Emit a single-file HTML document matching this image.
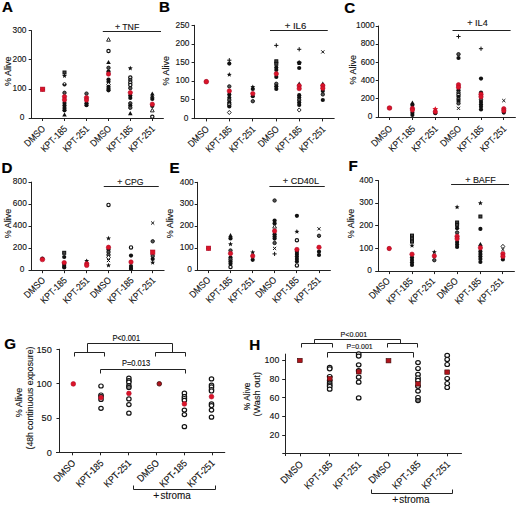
<!DOCTYPE html>
<html><head><meta charset="utf-8"><title>Figure</title><style>html,body{margin:0;padding:0;background:#fff;}body{width:520px;height:505px;overflow:hidden;font-family:"Liberation Sans", sans-serif;}svg text{font-family:"Liberation Sans", sans-serif;}</style></head><body>
<svg width="520" height="505" viewBox="0 0 520 505" style="display:block;font-family:'Liberation Sans', sans-serif">
<rect width="520" height="505" fill="#fff"/>
<text transform="translate(2.00 12.30) scale(1.08 1)" font-size="14" font-weight="bold" fill="#000" stroke="#000" stroke-width="0.2">A</text>
<line x1="31.50" y1="30.20" x2="31.50" y2="118.70" stroke="#222" stroke-width="1.0"/>
<text x="24.30" y="120.10" font-size="8.8" text-anchor="end" font-weight="normal" fill="#111" stroke="#111" stroke-width="0.12" textLength="4.65" lengthAdjust="spacingAndGlyphs">0</text>
<line x1="28.70" y1="89.50" x2="31.50" y2="89.50" stroke="#222" stroke-width="1.0"/>
<text x="26.50" y="91.13" font-size="8.8" text-anchor="end" font-weight="normal" fill="#111" stroke="#111" stroke-width="0.12" textLength="13.95" lengthAdjust="spacingAndGlyphs">100</text>
<line x1="28.70" y1="59.50" x2="31.50" y2="59.50" stroke="#222" stroke-width="1.0"/>
<text x="26.50" y="61.97" font-size="8.8" text-anchor="end" font-weight="normal" fill="#111" stroke="#111" stroke-width="0.12" textLength="13.95" lengthAdjust="spacingAndGlyphs">200</text>
<line x1="28.70" y1="30.50" x2="31.50" y2="30.50" stroke="#222" stroke-width="1.0"/>
<text x="26.50" y="32.80" font-size="8.8" text-anchor="end" font-weight="normal" fill="#111" stroke="#111" stroke-width="0.12" textLength="13.95" lengthAdjust="spacingAndGlyphs">300</text>
<line x1="28.70" y1="118.50" x2="163.80" y2="118.50" stroke="#222" stroke-width="1.0"/>
<line x1="42.50" y1="118.20" x2="42.50" y2="121.00" stroke="#222" stroke-width="1.0"/>
<text x="46.00" y="129.40" font-size="9.6" text-anchor="end" font-weight="normal" fill="#111" stroke="#111" stroke-width="0.12" textLength="25.34" lengthAdjust="spacingAndGlyphs" transform="rotate(-45 46.00 129.40)">DMSO</text>
<line x1="64.50" y1="118.20" x2="64.50" y2="121.00" stroke="#222" stroke-width="1.0"/>
<text x="67.90" y="129.40" font-size="9.6" text-anchor="end" font-weight="normal" fill="#111" stroke="#111" stroke-width="0.12" textLength="32.87" lengthAdjust="spacingAndGlyphs" transform="rotate(-45 67.90 129.40)">KPT-185</text>
<line x1="86.50" y1="118.20" x2="86.50" y2="121.00" stroke="#222" stroke-width="1.0"/>
<text x="89.90" y="129.40" font-size="9.6" text-anchor="end" font-weight="normal" fill="#111" stroke="#111" stroke-width="0.12" textLength="32.87" lengthAdjust="spacingAndGlyphs" transform="rotate(-45 89.90 129.40)">KPT-251</text>
<line x1="108.50" y1="118.20" x2="108.50" y2="121.00" stroke="#222" stroke-width="1.0"/>
<text x="111.90" y="129.40" font-size="9.6" text-anchor="end" font-weight="normal" fill="#111" stroke="#111" stroke-width="0.12" textLength="25.34" lengthAdjust="spacingAndGlyphs" transform="rotate(-45 111.90 129.40)">DMSO</text>
<line x1="130.50" y1="118.20" x2="130.50" y2="121.00" stroke="#222" stroke-width="1.0"/>
<text x="133.70" y="129.40" font-size="9.6" text-anchor="end" font-weight="normal" fill="#111" stroke="#111" stroke-width="0.12" textLength="32.87" lengthAdjust="spacingAndGlyphs" transform="rotate(-45 133.70 129.40)">KPT-185</text>
<line x1="152.50" y1="118.20" x2="152.50" y2="121.00" stroke="#222" stroke-width="1.0"/>
<text x="155.70" y="129.40" font-size="9.6" text-anchor="end" font-weight="normal" fill="#111" stroke="#111" stroke-width="0.12" textLength="32.87" lengthAdjust="spacingAndGlyphs" transform="rotate(-45 155.70 129.40)">KPT-251</text>
<text x="10.80" y="71.30" font-size="9" text-anchor="middle" font-weight="normal" fill="#111" stroke="#111" stroke-width="0.12" transform="rotate(-90 10.80 71.30)">% Alive</text>
<line x1="102.80" y1="31.50" x2="161.00" y2="31.50" stroke="#222" stroke-width="1.0"/>
<text x="127.10" y="29.90" font-size="9.3" text-anchor="middle" font-weight="normal" fill="#111" stroke="#111" stroke-width="0.12" textLength="24.4" lengthAdjust="spacingAndGlyphs">+ TNF</text>
<circle cx="42.60" cy="89.30" r="2.1" fill="#111"/>
<rect x="40.40" y="87.10" width="4.40" height="4.40" fill="#dc1428" stroke="#b00a28" stroke-width="0.6"/>
<rect x="63.00" y="71.00" width="3.00" height="3.00" fill="#444" stroke="#111" stroke-width="1"/>
<polygon points="64.50,73.30 65.19,74.95 66.97,75.10 65.61,76.26 66.03,78.00 64.50,77.07 62.97,78.00 63.39,76.26 62.03,75.10 63.81,74.95" fill="#111"/>
<circle cx="64.50" cy="84.40" r="1.7000000000000002" fill="#111" stroke="#111" stroke-width="0.9"/><circle cx="64.50" cy="83.80" r="0.8" fill="#fff"/>
<circle cx="64.50" cy="92.80" r="1.7000000000000002" fill="#555" stroke="#111" stroke-width="0.9"/>
<circle cx="64.50" cy="103.00" r="2.1" fill="#111"/>
<circle cx="64.50" cy="105.50" r="2.1" fill="#111"/>
<circle cx="64.50" cy="108.00" r="2.1" fill="#111"/>
<circle cx="64.50" cy="110.30" r="2.1" fill="#111"/>
<polygon points="64.50,112.40 66.80,116.60 62.20,116.60" fill="#111"/>
<circle cx="64.50" cy="96.60" r="2.2" fill="#dc1428" stroke="#b00a28" stroke-width="0.6"/>
<circle cx="64.50" cy="99.80" r="2.2" fill="#dc1428" stroke="#b00a28" stroke-width="0.6"/>
<circle cx="86.50" cy="93.60" r="1.7000000000000002" fill="#555" stroke="#111" stroke-width="0.9"/>
<circle cx="86.50" cy="103.30" r="2.1" fill="#111"/>
<circle cx="86.50" cy="105.20" r="2.1" fill="#111"/>
<circle cx="86.50" cy="97.60" r="2.2" fill="#dc1428" stroke="#b00a28" stroke-width="0.6"/>
<circle cx="86.50" cy="100.00" r="2.2" fill="#dc1428" stroke="#b00a28" stroke-width="0.6"/>
<polygon points="108.50,37.60 110.40,41.20 106.60,41.20" fill="#fff" stroke="#111" stroke-width="0.9"/>
<circle cx="108.50" cy="51.00" r="1.6500000000000001" fill="#fff" stroke="#111" stroke-width="1.2"/>
<polygon points="108.50,59.90 110.80,64.10 106.20,64.10" fill="#111"/>
<circle cx="108.50" cy="67.80" r="1.7000000000000002" fill="#555" stroke="#111" stroke-width="0.9"/>
<circle cx="108.50" cy="71.50" r="2.1" fill="#111"/>
<circle cx="108.50" cy="79.50" r="2.1" fill="#111"/>
<circle cx="108.50" cy="81.80" r="2.1" fill="#111"/>
<polygon points="108.50,82.50 110.40,84.60 108.50,86.70 106.60,84.60" fill="#fff" stroke="#111" stroke-width="0.9"/>
<circle cx="108.50" cy="86.80" r="2.1" fill="#111"/>
<circle cx="108.50" cy="88.80" r="2.1" fill="#111"/>
<circle cx="108.50" cy="90.30" r="2.1" fill="#111"/>
<circle cx="108.50" cy="74.00" r="2.2" fill="#dc1428" stroke="#b00a28" stroke-width="0.6"/>
<polygon points="130.30,65.70 130.99,67.35 132.77,67.50 131.41,68.66 131.83,70.40 130.30,69.47 128.77,70.40 129.19,68.66 127.83,67.50 129.61,67.35" fill="#111"/>
<circle cx="130.30" cy="77.50" r="1.6500000000000001" fill="#fff" stroke="#111" stroke-width="1.2"/>
<circle cx="130.30" cy="80.00" r="1.7000000000000002" fill="#555" stroke="#111" stroke-width="0.9"/>
<circle cx="130.30" cy="82.50" r="1.6500000000000001" fill="#fff" stroke="#111" stroke-width="1.2"/>
<circle cx="130.30" cy="85.00" r="1.6500000000000001" fill="#fff" stroke="#111" stroke-width="1.2"/>
<circle cx="130.30" cy="88.20" r="1.7000000000000002" fill="#555" stroke="#111" stroke-width="0.9"/>
<circle cx="130.30" cy="95.50" r="2.1" fill="#111"/>
<circle cx="130.30" cy="98.00" r="2.1" fill="#111"/>
<circle cx="130.30" cy="103.30" r="1.7000000000000002" fill="#555" stroke="#111" stroke-width="0.9"/>
<circle cx="130.30" cy="105.50" r="2.1" fill="#111"/>
<circle cx="130.30" cy="107.80" r="1.7000000000000002" fill="#555" stroke="#111" stroke-width="0.9"/>
<polygon points="130.30,111.00 132.60,115.20 128.00,115.20" fill="#111"/>
<circle cx="130.30" cy="92.60" r="2.2" fill="#dc1428" stroke="#b00a28" stroke-width="0.6"/>
<polygon points="152.30,91.40 154.60,95.60 150.00,95.60" fill="#111"/>
<polygon points="152.30,93.60 154.60,97.80 150.00,97.80" fill="#111"/>
<circle cx="152.30" cy="99.00" r="2.1" fill="#111"/>
<circle cx="152.30" cy="106.00" r="2.1" fill="#111"/>
<polygon points="152.30,108.30 154.20,111.90 150.40,111.90" fill="#fff" stroke="#111" stroke-width="0.9"/>
<circle cx="152.30" cy="116.70" r="1.6500000000000001" fill="#fff" stroke="#111" stroke-width="1.2"/>
<circle cx="152.30" cy="104.20" r="2.2" fill="#dc1428" stroke="#b00a28" stroke-width="0.6"/>
<text transform="translate(159.00 11.60) scale(1.08 1)" font-size="14" font-weight="bold" fill="#000" stroke="#000" stroke-width="0.2">B</text>
<line x1="194.50" y1="24.90" x2="194.50" y2="119.10" stroke="#222" stroke-width="1.0"/>
<text x="188.50" y="120.50" font-size="8.8" text-anchor="end" font-weight="normal" fill="#111" stroke="#111" stroke-width="0.12" textLength="4.65" lengthAdjust="spacingAndGlyphs">0</text>
<line x1="191.60" y1="99.50" x2="194.40" y2="99.50" stroke="#222" stroke-width="1.0"/>
<text x="189.50" y="102.06" font-size="8.8" text-anchor="end" font-weight="normal" fill="#111" stroke="#111" stroke-width="0.12" textLength="9.3" lengthAdjust="spacingAndGlyphs">50</text>
<line x1="191.60" y1="81.50" x2="194.40" y2="81.50" stroke="#222" stroke-width="1.0"/>
<text x="189.50" y="83.42" font-size="8.8" text-anchor="end" font-weight="normal" fill="#111" stroke="#111" stroke-width="0.12" textLength="13.95" lengthAdjust="spacingAndGlyphs">100</text>
<line x1="191.60" y1="62.50" x2="194.40" y2="62.50" stroke="#222" stroke-width="1.0"/>
<text x="189.50" y="64.78" font-size="8.8" text-anchor="end" font-weight="normal" fill="#111" stroke="#111" stroke-width="0.12" textLength="13.95" lengthAdjust="spacingAndGlyphs">150</text>
<line x1="191.60" y1="44.50" x2="194.40" y2="44.50" stroke="#222" stroke-width="1.0"/>
<text x="189.50" y="46.14" font-size="8.8" text-anchor="end" font-weight="normal" fill="#111" stroke="#111" stroke-width="0.12" textLength="13.95" lengthAdjust="spacingAndGlyphs">200</text>
<line x1="191.60" y1="25.50" x2="194.40" y2="25.50" stroke="#222" stroke-width="1.0"/>
<text x="189.50" y="27.50" font-size="8.8" text-anchor="end" font-weight="normal" fill="#111" stroke="#111" stroke-width="0.12" textLength="13.95" lengthAdjust="spacingAndGlyphs">250</text>
<line x1="191.60" y1="118.50" x2="334.60" y2="118.50" stroke="#222" stroke-width="1.0"/>
<line x1="206.50" y1="118.60" x2="206.50" y2="121.40" stroke="#222" stroke-width="1.0"/>
<text x="209.70" y="129.80" font-size="9.6" text-anchor="end" font-weight="normal" fill="#111" stroke="#111" stroke-width="0.12" textLength="25.34" lengthAdjust="spacingAndGlyphs" transform="rotate(-45 209.70 129.80)">DMSO</text>
<line x1="229.50" y1="118.60" x2="229.50" y2="121.40" stroke="#222" stroke-width="1.0"/>
<text x="232.70" y="129.80" font-size="9.6" text-anchor="end" font-weight="normal" fill="#111" stroke="#111" stroke-width="0.12" textLength="32.87" lengthAdjust="spacingAndGlyphs" transform="rotate(-45 232.70 129.80)">KPT-185</text>
<line x1="252.50" y1="118.60" x2="252.50" y2="121.40" stroke="#222" stroke-width="1.0"/>
<text x="256.20" y="129.80" font-size="9.6" text-anchor="end" font-weight="normal" fill="#111" stroke="#111" stroke-width="0.12" textLength="32.87" lengthAdjust="spacingAndGlyphs" transform="rotate(-45 256.20 129.80)">KPT-251</text>
<line x1="276.50" y1="118.60" x2="276.50" y2="121.40" stroke="#222" stroke-width="1.0"/>
<text x="279.70" y="129.80" font-size="9.6" text-anchor="end" font-weight="normal" fill="#111" stroke="#111" stroke-width="0.12" textLength="25.34" lengthAdjust="spacingAndGlyphs" transform="rotate(-45 279.70 129.80)">DMSO</text>
<line x1="299.50" y1="118.60" x2="299.50" y2="121.40" stroke="#222" stroke-width="1.0"/>
<text x="302.60" y="129.80" font-size="9.6" text-anchor="end" font-weight="normal" fill="#111" stroke="#111" stroke-width="0.12" textLength="32.87" lengthAdjust="spacingAndGlyphs" transform="rotate(-45 302.60 129.80)">KPT-185</text>
<line x1="322.50" y1="118.60" x2="322.50" y2="121.40" stroke="#222" stroke-width="1.0"/>
<text x="326.20" y="129.80" font-size="9.6" text-anchor="end" font-weight="normal" fill="#111" stroke="#111" stroke-width="0.12" textLength="32.87" lengthAdjust="spacingAndGlyphs" transform="rotate(-45 326.20 129.80)">KPT-251</text>
<text x="168.80" y="70.70" font-size="9" text-anchor="middle" font-weight="normal" fill="#111" stroke="#111" stroke-width="0.12" transform="rotate(-90 168.80 70.70)">% Alive</text>
<line x1="270.00" y1="30.50" x2="327.75" y2="30.50" stroke="#222" stroke-width="1.0"/>
<text x="295.50" y="28.60" font-size="9.3" text-anchor="middle" font-weight="normal" fill="#111" stroke="#111" stroke-width="0.12" textLength="21.6" lengthAdjust="spacingAndGlyphs">+ IL6</text>
<circle cx="206.30" cy="81.70" r="2.1" fill="#111"/>
<circle cx="206.30" cy="81.70" r="2.35" fill="#dc1428" stroke="#b00a28" stroke-width="0.6"/>
<path d="M227.20 60.20H231.40M229.30 58.10V62.30" stroke="#111" stroke-width="1"/>
<circle cx="229.30" cy="63.60" r="2.1" fill="#111"/>
<polygon points="229.30,72.10 229.99,73.75 231.77,73.90 230.41,75.06 230.83,76.80 229.30,75.87 227.77,76.80 228.19,75.06 226.83,73.90 228.61,73.75" fill="#111"/>
<circle cx="229.30" cy="86.40" r="1.7000000000000002" fill="#555" stroke="#111" stroke-width="0.9"/>
<circle cx="229.30" cy="94.60" r="2.1" fill="#111"/>
<circle cx="229.30" cy="97.80" r="2.1" fill="#111"/>
<circle cx="229.30" cy="100.00" r="1.7000000000000002" fill="#555" stroke="#111" stroke-width="0.9"/>
<circle cx="229.30" cy="102.50" r="2.1" fill="#111"/>
<circle cx="229.30" cy="104.50" r="1.6500000000000001" fill="#fff" stroke="#111" stroke-width="1.2"/>
<circle cx="229.30" cy="106.50" r="2.1" fill="#111"/>
<polygon points="229.30,110.40 231.20,112.50 229.30,114.60 227.40,112.50" fill="#fff" stroke="#111" stroke-width="0.9"/>
<circle cx="229.30" cy="91.00" r="2.2" fill="#dc1428" stroke="#b00a28" stroke-width="0.6"/>
<polygon points="252.80,84.40 253.49,86.05 255.27,86.20 253.91,87.36 254.33,89.10 252.80,88.17 251.27,89.10 251.69,87.36 250.33,86.20 252.11,86.05" fill="#111"/>
<circle cx="252.80" cy="89.00" r="2.1" fill="#111"/>
<circle cx="252.80" cy="96.20" r="2.1" fill="#111"/>
<circle cx="252.80" cy="101.20" r="1.7000000000000002" fill="#555" stroke="#111" stroke-width="0.9"/>
<circle cx="252.80" cy="93.60" r="2.2" fill="#dc1428" stroke="#b00a28" stroke-width="0.6"/>
<path d="M274.20 45.40H278.40M276.30 43.30V47.50" stroke="#111" stroke-width="1"/>
<rect x="274.80" y="59.80" width="3.00" height="3.00" fill="#444" stroke="#111" stroke-width="1"/>
<rect x="274.80" y="62.30" width="3.00" height="3.00" fill="#444" stroke="#111" stroke-width="1"/>
<circle cx="276.30" cy="67.50" r="2.1" fill="#111"/>
<circle cx="276.30" cy="70.00" r="2.1" fill="#111"/>
<circle cx="276.30" cy="76.90" r="2.1" fill="#111"/>
<circle cx="276.30" cy="83.80" r="1.7000000000000002" fill="#555" stroke="#111" stroke-width="0.9"/>
<circle cx="276.30" cy="86.30" r="2.1" fill="#111"/>
<circle cx="276.30" cy="88.90" r="2.1" fill="#111"/>
<circle cx="276.30" cy="73.80" r="2.2" fill="#dc1428" stroke="#b00a28" stroke-width="0.6"/>
<path d="M297.10 49.30H301.30M299.20 47.20V51.40" stroke="#111" stroke-width="1"/>
<polygon points="299.20,60.30 301.67,62.10 300.73,65.00 297.67,65.00 296.73,62.10" fill="#111"/>
<circle cx="299.20" cy="68.00" r="2.1" fill="#111"/>
<polygon points="299.20,81.60 301.50,85.80 296.90,85.80" fill="#111"/>
<circle cx="299.20" cy="95.20" r="2.1" fill="#111"/>
<circle cx="299.20" cy="97.60" r="2.1" fill="#111"/>
<circle cx="299.20" cy="100.00" r="1.7000000000000002" fill="#555" stroke="#111" stroke-width="0.9"/>
<circle cx="299.20" cy="102.50" r="2.1" fill="#111"/>
<circle cx="299.20" cy="105.00" r="2.1" fill="#111"/>
<polygon points="299.20,107.90 301.10,110.00 299.20,112.10 297.30,110.00" fill="#fff" stroke="#111" stroke-width="0.9"/>
<circle cx="299.20" cy="85.80" r="2.2" fill="#dc1428" stroke="#b00a28" stroke-width="0.6"/>
<circle cx="299.20" cy="88.60" r="2.2" fill="#dc1428" stroke="#b00a28" stroke-width="0.6"/>
<path d="M321.23 50.32L324.38 53.48M324.38 50.32L321.23 53.48" stroke="#111" stroke-width="1"/>
<polygon points="322.80,81.60 325.10,85.80 320.50,85.80" fill="#111"/>
<circle cx="322.80" cy="91.00" r="2.1" fill="#111"/>
<circle cx="322.80" cy="94.40" r="1.7000000000000002" fill="#555" stroke="#111" stroke-width="0.9"/>
<circle cx="322.80" cy="100.00" r="2.1" fill="#111"/>
<circle cx="322.80" cy="85.60" r="2.2" fill="#dc1428" stroke="#b00a28" stroke-width="0.6"/>
<circle cx="322.80" cy="88.20" r="2.2" fill="#dc1428" stroke="#b00a28" stroke-width="0.6"/>
<text transform="translate(344.30 13.20) scale(1.08 1)" font-size="14" font-weight="bold" fill="#000" stroke="#000" stroke-width="0.2">C</text>
<line x1="378.50" y1="25.60" x2="378.50" y2="117.70" stroke="#222" stroke-width="1.0"/>
<text x="372.40" y="119.10" font-size="8.8" text-anchor="end" font-weight="normal" fill="#111" stroke="#111" stroke-width="0.12" textLength="4.65" lengthAdjust="spacingAndGlyphs">0</text>
<line x1="375.70" y1="98.50" x2="378.50" y2="98.50" stroke="#222" stroke-width="1.0"/>
<text x="374.60" y="101.08" font-size="8.8" text-anchor="end" font-weight="normal" fill="#111" stroke="#111" stroke-width="0.12" textLength="13.95" lengthAdjust="spacingAndGlyphs">200</text>
<line x1="375.70" y1="80.50" x2="378.50" y2="80.50" stroke="#222" stroke-width="1.0"/>
<text x="374.60" y="82.86" font-size="8.8" text-anchor="end" font-weight="normal" fill="#111" stroke="#111" stroke-width="0.12" textLength="13.95" lengthAdjust="spacingAndGlyphs">400</text>
<line x1="375.70" y1="62.50" x2="378.50" y2="62.50" stroke="#222" stroke-width="1.0"/>
<text x="374.60" y="64.64" font-size="8.8" text-anchor="end" font-weight="normal" fill="#111" stroke="#111" stroke-width="0.12" textLength="13.95" lengthAdjust="spacingAndGlyphs">600</text>
<line x1="375.70" y1="44.50" x2="378.50" y2="44.50" stroke="#222" stroke-width="1.0"/>
<text x="374.60" y="46.42" font-size="8.8" text-anchor="end" font-weight="normal" fill="#111" stroke="#111" stroke-width="0.12" textLength="13.95" lengthAdjust="spacingAndGlyphs">800</text>
<line x1="375.70" y1="26.50" x2="378.50" y2="26.50" stroke="#222" stroke-width="1.0"/>
<text x="374.60" y="28.20" font-size="8.8" text-anchor="end" font-weight="normal" fill="#111" stroke="#111" stroke-width="0.12" textLength="18.6" lengthAdjust="spacingAndGlyphs">1000</text>
<line x1="375.70" y1="117.50" x2="515.80" y2="117.50" stroke="#222" stroke-width="1.0"/>
<line x1="389.50" y1="117.20" x2="389.50" y2="120.00" stroke="#222" stroke-width="1.0"/>
<text x="392.90" y="129.30" font-size="9.6" text-anchor="end" font-weight="normal" fill="#111" stroke="#111" stroke-width="0.12" textLength="25.34" lengthAdjust="spacingAndGlyphs" transform="rotate(-45 392.90 129.30)">DMSO</text>
<line x1="412.50" y1="117.20" x2="412.50" y2="120.00" stroke="#222" stroke-width="1.0"/>
<text x="415.80" y="129.30" font-size="9.6" text-anchor="end" font-weight="normal" fill="#111" stroke="#111" stroke-width="0.12" textLength="32.87" lengthAdjust="spacingAndGlyphs" transform="rotate(-45 415.80 129.30)">KPT-185</text>
<line x1="435.50" y1="117.20" x2="435.50" y2="120.00" stroke="#222" stroke-width="1.0"/>
<text x="438.70" y="129.30" font-size="9.6" text-anchor="end" font-weight="normal" fill="#111" stroke="#111" stroke-width="0.12" textLength="32.87" lengthAdjust="spacingAndGlyphs" transform="rotate(-45 438.70 129.30)">KPT-251</text>
<line x1="458.50" y1="117.20" x2="458.50" y2="120.00" stroke="#222" stroke-width="1.0"/>
<text x="461.90" y="129.30" font-size="9.6" text-anchor="end" font-weight="normal" fill="#111" stroke="#111" stroke-width="0.12" textLength="25.34" lengthAdjust="spacingAndGlyphs" transform="rotate(-45 461.90 129.30)">DMSO</text>
<line x1="481.50" y1="117.20" x2="481.50" y2="120.00" stroke="#222" stroke-width="1.0"/>
<text x="484.40" y="129.30" font-size="9.6" text-anchor="end" font-weight="normal" fill="#111" stroke="#111" stroke-width="0.12" textLength="32.87" lengthAdjust="spacingAndGlyphs" transform="rotate(-45 484.40 129.30)">KPT-185</text>
<line x1="503.50" y1="117.20" x2="503.50" y2="120.00" stroke="#222" stroke-width="1.0"/>
<text x="507.20" y="129.30" font-size="9.6" text-anchor="end" font-weight="normal" fill="#111" stroke="#111" stroke-width="0.12" textLength="32.87" lengthAdjust="spacingAndGlyphs" transform="rotate(-45 507.20 129.30)">KPT-251</text>
<text x="355.90" y="69.70" font-size="9" text-anchor="middle" font-weight="normal" fill="#111" stroke="#111" stroke-width="0.12" transform="rotate(-90 355.90 69.70)">% Alive</text>
<line x1="452.50" y1="30.50" x2="510.60" y2="30.50" stroke="#222" stroke-width="1.0"/>
<text x="477.50" y="25.80" font-size="9.3" text-anchor="middle" font-weight="normal" fill="#111" stroke="#111" stroke-width="0.12" textLength="20.6" lengthAdjust="spacingAndGlyphs">+ IL4</text>
<circle cx="389.50" cy="108.00" r="2.1" fill="#111"/>
<circle cx="389.50" cy="108.00" r="2.35" fill="#dc1428" stroke="#b00a28" stroke-width="0.6"/>
<polygon points="412.40,100.40 414.70,104.60 410.10,104.60" fill="#111"/>
<circle cx="412.40" cy="105.00" r="2.1" fill="#111"/>
<circle cx="412.40" cy="112.80" r="2.1" fill="#111"/>
<circle cx="412.40" cy="115.00" r="2.1" fill="#111"/>
<circle cx="412.40" cy="108.40" r="2.2" fill="#dc1428" stroke="#b00a28" stroke-width="0.6"/>
<circle cx="412.40" cy="110.00" r="2.2" fill="#dc1428" stroke="#b00a28" stroke-width="0.6"/>
<circle cx="435.30" cy="113.20" r="2.1" fill="#111"/>
<polygon points="435.30,106.20 436.18,107.99 438.15,108.27 436.73,109.66 437.06,111.63 435.30,110.70 433.54,111.63 433.87,109.66 432.45,108.27 434.42,107.99" fill="#dc1428"/>
<circle cx="435.30" cy="111.80" r="2.2" fill="#dc1428" stroke="#b00a28" stroke-width="0.6"/>
<path d="M456.40 36.50H460.60M458.50 34.40V38.60" stroke="#111" stroke-width="1"/>
<circle cx="458.50" cy="54.20" r="1.7000000000000002" fill="#555" stroke="#111" stroke-width="0.9"/>
<circle cx="458.50" cy="58.00" r="2.1" fill="#111"/>
<circle cx="458.50" cy="90.20" r="2.1" fill="#111"/>
<circle cx="458.50" cy="92.50" r="1.7000000000000002" fill="#555" stroke="#111" stroke-width="0.9"/>
<circle cx="458.50" cy="94.80" r="1.6500000000000001" fill="#fff" stroke="#111" stroke-width="1.2"/>
<circle cx="458.50" cy="96.80" r="2.1" fill="#111"/>
<circle cx="458.50" cy="99.00" r="1.7000000000000002" fill="#555" stroke="#111" stroke-width="0.9"/>
<circle cx="458.50" cy="101.00" r="2.1" fill="#111"/>
<circle cx="458.50" cy="103.40" r="1.7000000000000002" fill="#555" stroke="#111" stroke-width="0.9"/>
<path d="M456.93 106.72L460.07 109.88M460.07 106.72L456.93 109.88" stroke="#111" stroke-width="1"/>
<circle cx="458.50" cy="84.80" r="2.2" fill="#dc1428" stroke="#b00a28" stroke-width="0.6"/>
<circle cx="458.50" cy="87.20" r="2.2" fill="#dc1428" stroke="#b00a28" stroke-width="0.6"/>
<path d="M478.90 48.70H483.10M481.00 46.60V50.80" stroke="#111" stroke-width="1"/>
<circle cx="481.00" cy="78.60" r="2.1" fill="#111"/>
<circle cx="481.00" cy="92.50" r="2.1" fill="#111"/>
<circle cx="481.00" cy="99.60" r="1.7000000000000002" fill="#555" stroke="#111" stroke-width="0.9"/>
<circle cx="481.00" cy="102.00" r="2.1" fill="#111"/>
<circle cx="481.00" cy="104.50" r="2.1" fill="#111"/>
<circle cx="481.00" cy="106.80" r="2.1" fill="#111"/>
<circle cx="481.00" cy="109.50" r="2.1" fill="#111"/>
<circle cx="481.00" cy="94.20" r="2.2" fill="#dc1428" stroke="#b00a28" stroke-width="0.6"/>
<circle cx="481.00" cy="96.80" r="2.2" fill="#dc1428" stroke="#b00a28" stroke-width="0.6"/>
<path d="M502.23 99.02L505.38 102.17M505.38 99.02L502.23 102.17" stroke="#111" stroke-width="1"/>
<circle cx="503.80" cy="112.60" r="2.1" fill="#111"/>
<circle cx="503.80" cy="108.80" r="2.2" fill="#dc1428" stroke="#b00a28" stroke-width="0.6"/>
<circle cx="503.80" cy="110.80" r="2.2" fill="#dc1428" stroke="#b00a28" stroke-width="0.6"/>
<text transform="translate(1.50 172.50) scale(1.08 1)" font-size="14" font-weight="bold" fill="#000" stroke="#000" stroke-width="0.2">D</text>
<line x1="31.50" y1="181.70" x2="31.50" y2="270.90" stroke="#222" stroke-width="1.0"/>
<text x="24.50" y="272.30" font-size="8.8" text-anchor="end" font-weight="normal" fill="#111" stroke="#111" stroke-width="0.12" textLength="4.65" lengthAdjust="spacingAndGlyphs">0</text>
<line x1="28.50" y1="248.50" x2="31.30" y2="248.50" stroke="#222" stroke-width="1.0"/>
<text x="26.80" y="250.45" font-size="8.8" text-anchor="end" font-weight="normal" fill="#111" stroke="#111" stroke-width="0.12" textLength="13.95" lengthAdjust="spacingAndGlyphs">200</text>
<line x1="28.50" y1="226.50" x2="31.30" y2="226.50" stroke="#222" stroke-width="1.0"/>
<text x="26.80" y="228.40" font-size="8.8" text-anchor="end" font-weight="normal" fill="#111" stroke="#111" stroke-width="0.12" textLength="13.95" lengthAdjust="spacingAndGlyphs">400</text>
<line x1="28.50" y1="204.50" x2="31.30" y2="204.50" stroke="#222" stroke-width="1.0"/>
<text x="26.80" y="206.35" font-size="8.8" text-anchor="end" font-weight="normal" fill="#111" stroke="#111" stroke-width="0.12" textLength="13.95" lengthAdjust="spacingAndGlyphs">600</text>
<line x1="28.50" y1="182.50" x2="31.30" y2="182.50" stroke="#222" stroke-width="1.0"/>
<text x="26.80" y="184.30" font-size="8.8" text-anchor="end" font-weight="normal" fill="#111" stroke="#111" stroke-width="0.12" textLength="13.95" lengthAdjust="spacingAndGlyphs">800</text>
<line x1="28.50" y1="270.50" x2="164.50" y2="270.50" stroke="#222" stroke-width="1.0"/>
<line x1="42.50" y1="270.40" x2="42.50" y2="273.20" stroke="#222" stroke-width="1.0"/>
<text x="45.80" y="280.90" font-size="9.6" text-anchor="end" font-weight="normal" fill="#111" stroke="#111" stroke-width="0.12" textLength="25.34" lengthAdjust="spacingAndGlyphs" transform="rotate(-45 45.80 280.90)">DMSO</text>
<line x1="64.50" y1="270.40" x2="64.50" y2="273.20" stroke="#222" stroke-width="1.0"/>
<text x="67.60" y="280.90" font-size="9.6" text-anchor="end" font-weight="normal" fill="#111" stroke="#111" stroke-width="0.12" textLength="32.87" lengthAdjust="spacingAndGlyphs" transform="rotate(-45 67.60 280.90)">KPT-185</text>
<line x1="86.50" y1="270.40" x2="86.50" y2="273.20" stroke="#222" stroke-width="1.0"/>
<text x="90.10" y="280.90" font-size="9.6" text-anchor="end" font-weight="normal" fill="#111" stroke="#111" stroke-width="0.12" textLength="32.87" lengthAdjust="spacingAndGlyphs" transform="rotate(-45 90.10 280.90)">KPT-251</text>
<line x1="108.50" y1="270.40" x2="108.50" y2="273.20" stroke="#222" stroke-width="1.0"/>
<text x="111.90" y="280.90" font-size="9.6" text-anchor="end" font-weight="normal" fill="#111" stroke="#111" stroke-width="0.12" textLength="25.34" lengthAdjust="spacingAndGlyphs" transform="rotate(-45 111.90 280.90)">DMSO</text>
<line x1="131.50" y1="270.40" x2="131.50" y2="273.20" stroke="#222" stroke-width="1.0"/>
<text x="134.40" y="280.90" font-size="9.6" text-anchor="end" font-weight="normal" fill="#111" stroke="#111" stroke-width="0.12" textLength="32.87" lengthAdjust="spacingAndGlyphs" transform="rotate(-45 134.40 280.90)">KPT-185</text>
<line x1="152.50" y1="270.40" x2="152.50" y2="273.20" stroke="#222" stroke-width="1.0"/>
<text x="156.10" y="280.90" font-size="9.6" text-anchor="end" font-weight="normal" fill="#111" stroke="#111" stroke-width="0.12" textLength="32.87" lengthAdjust="spacingAndGlyphs" transform="rotate(-45 156.10 280.90)">KPT-251</text>
<text x="11.00" y="223.40" font-size="9" text-anchor="middle" font-weight="normal" fill="#111" stroke="#111" stroke-width="0.12" transform="rotate(-90 11.00 223.40)">% Alive</text>
<line x1="103.75" y1="186.50" x2="158.75" y2="186.50" stroke="#222" stroke-width="1.0"/>
<text x="130.30" y="184.50" font-size="9.3" text-anchor="middle" font-weight="normal" fill="#111" stroke="#111" stroke-width="0.12" textLength="26.2" lengthAdjust="spacingAndGlyphs">+ CPG</text>
<circle cx="42.40" cy="258.50" r="2.1" fill="#111"/>
<circle cx="42.40" cy="259.50" r="2.35" fill="#dc1428" stroke="#b00a28" stroke-width="0.6"/>
<rect x="62.70" y="251.30" width="3.00" height="3.00" fill="#444" stroke="#111" stroke-width="1"/>
<circle cx="64.20" cy="257.00" r="2.1" fill="#111"/>
<circle cx="64.20" cy="264.00" r="2.1" fill="#111"/>
<circle cx="64.20" cy="266.00" r="2.1" fill="#111"/>
<circle cx="64.20" cy="267.50" r="2.1" fill="#111"/>
<circle cx="64.20" cy="262.60" r="2.2" fill="#dc1428" stroke="#b00a28" stroke-width="0.6"/>
<polygon points="86.70,258.40 87.39,260.05 89.17,260.20 87.81,261.36 88.23,263.10 86.70,262.17 85.17,263.10 85.59,261.36 84.23,260.20 86.01,260.05" fill="#111"/>
<circle cx="86.70" cy="263.70" r="2.2" fill="#dc1428" stroke="#b00a28" stroke-width="0.6"/>
<circle cx="86.70" cy="265.40" r="2.2" fill="#dc1428" stroke="#b00a28" stroke-width="0.6"/>
<circle cx="108.50" cy="204.90" r="1.6500000000000001" fill="#fff" stroke="#111" stroke-width="1.2"/>
<polygon points="108.50,235.80 109.19,237.45 110.97,237.60 109.61,238.76 110.03,240.50 108.50,239.57 106.97,240.50 107.39,238.76 106.03,237.60 107.81,237.45" fill="#111"/>
<circle cx="108.50" cy="249.50" r="2.1" fill="#111"/>
<circle cx="108.50" cy="252.00" r="1.7000000000000002" fill="#555" stroke="#111" stroke-width="0.9"/>
<circle cx="108.50" cy="254.80" r="1.7000000000000002" fill="#555" stroke="#111" stroke-width="0.9"/>
<polygon points="108.50,255.30 110.40,257.40 108.50,259.50 106.60,257.40" fill="#fff" stroke="#111" stroke-width="0.9"/>
<path d="M106.92 258.93L110.08 262.07M110.08 258.93L106.92 262.07" stroke="#111" stroke-width="1"/>
<polygon points="108.50,262.80 109.19,264.45 110.97,264.60 109.61,265.76 110.03,267.50 108.50,266.57 106.97,267.50 107.39,265.76 106.03,264.60 107.81,264.45" fill="#111"/>
<circle cx="108.50" cy="247.30" r="2.2" fill="#dc1428" stroke="#b00a28" stroke-width="0.6"/>
<circle cx="131.00" cy="247.40" r="1.6500000000000001" fill="#fff" stroke="#111" stroke-width="1.2"/>
<circle cx="131.00" cy="255.60" r="2.1" fill="#111"/>
<circle cx="131.00" cy="266.00" r="2.1" fill="#111"/>
<circle cx="131.00" cy="268.00" r="2.1" fill="#111"/>
<circle cx="131.00" cy="269.00" r="2.1" fill="#111"/>
<circle cx="131.00" cy="262.00" r="2.2" fill="#dc1428" stroke="#b00a28" stroke-width="0.6"/>
<path d="M151.12 221.43L154.27 224.57M154.27 221.43L151.12 224.57" stroke="#111" stroke-width="1"/>
<circle cx="152.70" cy="241.30" r="1.7000000000000002" fill="#555" stroke="#111" stroke-width="0.9"/>
<circle cx="152.70" cy="256.00" r="1.7000000000000002" fill="#555" stroke="#111" stroke-width="0.9"/>
<circle cx="152.70" cy="259.00" r="2.1" fill="#111"/>
<polygon points="152.70,260.00 153.39,261.65 155.17,261.80 153.81,262.96 154.23,264.70 152.70,263.77 151.17,264.70 151.59,262.96 150.23,261.80 152.01,261.65" fill="#111"/>
<rect x="150.50" y="250.00" width="4.40" height="4.40" fill="#dc1428" stroke="#b00a28" stroke-width="0.6"/>
<text transform="translate(169.50 172.50) scale(1.08 1)" font-size="14" font-weight="bold" fill="#000" stroke="#000" stroke-width="0.2">E</text>
<line x1="197.50" y1="181.90" x2="197.50" y2="270.80" stroke="#222" stroke-width="1.0"/>
<text x="191.80" y="272.20" font-size="8.8" text-anchor="end" font-weight="normal" fill="#111" stroke="#111" stroke-width="0.12" textLength="4.65" lengthAdjust="spacingAndGlyphs">0</text>
<line x1="194.70" y1="248.50" x2="197.50" y2="248.50" stroke="#222" stroke-width="1.0"/>
<text x="193.70" y="250.43" font-size="8.8" text-anchor="end" font-weight="normal" fill="#111" stroke="#111" stroke-width="0.12" textLength="13.95" lengthAdjust="spacingAndGlyphs">100</text>
<line x1="194.70" y1="226.50" x2="197.50" y2="226.50" stroke="#222" stroke-width="1.0"/>
<text x="193.70" y="228.45" font-size="8.8" text-anchor="end" font-weight="normal" fill="#111" stroke="#111" stroke-width="0.12" textLength="13.95" lengthAdjust="spacingAndGlyphs">200</text>
<line x1="194.70" y1="204.50" x2="197.50" y2="204.50" stroke="#222" stroke-width="1.0"/>
<text x="193.70" y="206.47" font-size="8.8" text-anchor="end" font-weight="normal" fill="#111" stroke="#111" stroke-width="0.12" textLength="13.95" lengthAdjust="spacingAndGlyphs">300</text>
<line x1="194.70" y1="182.50" x2="197.50" y2="182.50" stroke="#222" stroke-width="1.0"/>
<text x="193.70" y="184.50" font-size="8.8" text-anchor="end" font-weight="normal" fill="#111" stroke="#111" stroke-width="0.12" textLength="13.95" lengthAdjust="spacingAndGlyphs">400</text>
<line x1="194.70" y1="270.50" x2="330.80" y2="270.50" stroke="#222" stroke-width="1.0"/>
<line x1="208.50" y1="270.30" x2="208.50" y2="273.10" stroke="#222" stroke-width="1.0"/>
<text x="211.10" y="280.60" font-size="9.6" text-anchor="end" font-weight="normal" fill="#111" stroke="#111" stroke-width="0.12" textLength="25.34" lengthAdjust="spacingAndGlyphs" transform="rotate(-45 211.10 280.60)">DMSO</text>
<line x1="230.50" y1="270.30" x2="230.50" y2="273.10" stroke="#222" stroke-width="1.0"/>
<text x="233.10" y="280.60" font-size="9.6" text-anchor="end" font-weight="normal" fill="#111" stroke="#111" stroke-width="0.12" textLength="32.87" lengthAdjust="spacingAndGlyphs" transform="rotate(-45 233.10 280.60)">KPT-185</text>
<line x1="252.50" y1="270.30" x2="252.50" y2="273.10" stroke="#222" stroke-width="1.0"/>
<text x="255.30" y="280.60" font-size="9.6" text-anchor="end" font-weight="normal" fill="#111" stroke="#111" stroke-width="0.12" textLength="32.87" lengthAdjust="spacingAndGlyphs" transform="rotate(-45 255.30 280.60)">KPT-251</text>
<line x1="274.50" y1="270.30" x2="274.50" y2="273.10" stroke="#222" stroke-width="1.0"/>
<text x="277.20" y="280.60" font-size="9.6" text-anchor="end" font-weight="normal" fill="#111" stroke="#111" stroke-width="0.12" textLength="25.34" lengthAdjust="spacingAndGlyphs" transform="rotate(-45 277.20 280.60)">DMSO</text>
<line x1="296.50" y1="270.30" x2="296.50" y2="273.10" stroke="#222" stroke-width="1.0"/>
<text x="299.50" y="280.60" font-size="9.6" text-anchor="end" font-weight="normal" fill="#111" stroke="#111" stroke-width="0.12" textLength="32.87" lengthAdjust="spacingAndGlyphs" transform="rotate(-45 299.50 280.60)">KPT-185</text>
<line x1="319.50" y1="270.30" x2="319.50" y2="273.10" stroke="#222" stroke-width="1.0"/>
<text x="321.60" y="280.60" font-size="9.6" text-anchor="end" font-weight="normal" fill="#111" stroke="#111" stroke-width="0.12" textLength="32.87" lengthAdjust="spacingAndGlyphs" transform="rotate(-45 321.60 280.60)">KPT-251</text>
<text x="172.90" y="223.60" font-size="9" text-anchor="middle" font-weight="normal" fill="#111" stroke="#111" stroke-width="0.12" transform="rotate(-90 172.90 223.60)">% Alive</text>
<line x1="269.40" y1="186.50" x2="324.75" y2="186.50" stroke="#222" stroke-width="1.0"/>
<text x="300.90" y="184.25" font-size="9.3" text-anchor="middle" font-weight="normal" fill="#111" stroke="#111" stroke-width="0.12" textLength="36.2" lengthAdjust="spacingAndGlyphs">+ CD40L</text>
<circle cx="208.50" cy="248.30" r="2.1" fill="#111"/>
<rect x="206.30" y="246.10" width="4.40" height="4.40" fill="#dc1428" stroke="#b00a28" stroke-width="0.6"/>
<polygon points="230.50,233.10 232.80,237.30 228.20,237.30" fill="#111"/>
<circle cx="230.50" cy="238.50" r="2.1" fill="#111"/>
<polygon points="230.50,241.60 231.19,243.25 232.97,243.40 231.61,244.56 232.03,246.30 230.50,245.37 228.97,246.30 229.39,244.56 228.03,243.40 229.81,243.25" fill="#111"/>
<circle cx="230.50" cy="250.50" r="1.7000000000000002" fill="#555" stroke="#111" stroke-width="0.9"/>
<circle cx="230.50" cy="257.50" r="2.1" fill="#111"/>
<circle cx="230.50" cy="259.50" r="1.7000000000000002" fill="#555" stroke="#111" stroke-width="0.9"/>
<circle cx="230.50" cy="261.50" r="2.1" fill="#111"/>
<circle cx="230.50" cy="263.70" r="2.1" fill="#111"/>
<circle cx="230.50" cy="267.00" r="1.6500000000000001" fill="#fff" stroke="#111" stroke-width="1.2"/>
<circle cx="230.50" cy="253.50" r="2.2" fill="#dc1428" stroke="#b00a28" stroke-width="0.6"/>
<polygon points="252.70,249.80 253.39,251.45 255.17,251.60 253.81,252.76 254.23,254.50 252.70,253.57 251.17,254.50 251.59,252.76 250.23,251.60 252.01,251.45" fill="#111"/>
<circle cx="252.70" cy="259.80" r="2.1" fill="#111"/>
<circle cx="252.70" cy="256.00" r="2.2" fill="#dc1428" stroke="#b00a28" stroke-width="0.6"/>
<circle cx="274.60" cy="200.50" r="1.7000000000000002" fill="#555" stroke="#111" stroke-width="0.9"/>
<circle cx="274.60" cy="220.50" r="2.1" fill="#111"/>
<circle cx="274.60" cy="223.40" r="2.1" fill="#111"/>
<polygon points="274.60,224.50 276.50,228.10 272.70,228.10" fill="#fff" stroke="#111" stroke-width="0.9"/>
<circle cx="274.60" cy="234.30" r="2.1" fill="#111"/>
<circle cx="274.60" cy="236.50" r="2.1" fill="#111"/>
<circle cx="274.60" cy="238.60" r="2.1" fill="#111"/>
<circle cx="274.60" cy="243.00" r="1.7000000000000002" fill="#555" stroke="#111" stroke-width="0.9"/>
<path d="M273.03 246.83L276.18 249.97M276.18 246.83L273.03 249.97" stroke="#111" stroke-width="1"/>
<path d="M272.50 253.90H276.70M274.60 251.80V256.00" stroke="#111" stroke-width="1"/>
<circle cx="274.60" cy="231.00" r="2.2" fill="#dc1428" stroke="#b00a28" stroke-width="0.6"/>
<circle cx="296.90" cy="215.80" r="2.1" fill="#111"/>
<polygon points="296.90,229.10 297.59,230.75 299.37,230.90 298.01,232.06 298.43,233.80 296.90,232.87 295.37,233.80 295.79,232.06 294.43,230.90 296.21,230.75" fill="#111"/>
<circle cx="296.90" cy="240.20" r="1.6500000000000001" fill="#fff" stroke="#111" stroke-width="1.2"/>
<circle cx="296.90" cy="251.70" r="2.1" fill="#111"/>
<circle cx="296.90" cy="254.00" r="2.1" fill="#111"/>
<circle cx="296.90" cy="256.50" r="2.1" fill="#111"/>
<circle cx="296.90" cy="259.00" r="2.1" fill="#111"/>
<circle cx="296.90" cy="261.50" r="2.1" fill="#111"/>
<circle cx="296.90" cy="265.40" r="1.6500000000000001" fill="#fff" stroke="#111" stroke-width="1.2"/>
<circle cx="296.90" cy="249.50" r="2.2" fill="#dc1428" stroke="#b00a28" stroke-width="0.6"/>
<path d="M317.43 227.23L320.57 230.38M320.57 227.23L317.43 230.38" stroke="#111" stroke-width="1"/>
<circle cx="319.00" cy="235.80" r="1.7000000000000002" fill="#555" stroke="#111" stroke-width="0.9"/>
<circle cx="319.00" cy="251.70" r="2.1" fill="#111"/>
<circle cx="319.00" cy="255.00" r="2.1" fill="#111"/>
<circle cx="319.00" cy="247.30" r="2.2" fill="#dc1428" stroke="#b00a28" stroke-width="0.6"/>
<text transform="translate(348.50 171.30) scale(1.08 1)" font-size="14" font-weight="bold" fill="#000" stroke="#000" stroke-width="0.2">F</text>
<line x1="378.50" y1="180.10" x2="378.50" y2="271.80" stroke="#222" stroke-width="1.0"/>
<text x="371.90" y="273.20" font-size="8.8" text-anchor="end" font-weight="normal" fill="#111" stroke="#111" stroke-width="0.12" textLength="4.65" lengthAdjust="spacingAndGlyphs">0</text>
<line x1="375.20" y1="248.50" x2="378.00" y2="248.50" stroke="#222" stroke-width="1.0"/>
<text x="373.20" y="250.72" font-size="8.8" text-anchor="end" font-weight="normal" fill="#111" stroke="#111" stroke-width="0.12" textLength="13.95" lengthAdjust="spacingAndGlyphs">100</text>
<line x1="375.20" y1="225.50" x2="378.00" y2="225.50" stroke="#222" stroke-width="1.0"/>
<text x="373.20" y="228.05" font-size="8.8" text-anchor="end" font-weight="normal" fill="#111" stroke="#111" stroke-width="0.12" textLength="13.95" lengthAdjust="spacingAndGlyphs">200</text>
<line x1="375.20" y1="203.50" x2="378.00" y2="203.50" stroke="#222" stroke-width="1.0"/>
<text x="373.20" y="205.38" font-size="8.8" text-anchor="end" font-weight="normal" fill="#111" stroke="#111" stroke-width="0.12" textLength="13.95" lengthAdjust="spacingAndGlyphs">300</text>
<line x1="375.20" y1="180.50" x2="378.00" y2="180.50" stroke="#222" stroke-width="1.0"/>
<text x="373.20" y="182.70" font-size="8.8" text-anchor="end" font-weight="normal" fill="#111" stroke="#111" stroke-width="0.12" textLength="13.95" lengthAdjust="spacingAndGlyphs">400</text>
<line x1="375.20" y1="271.50" x2="514.80" y2="271.50" stroke="#222" stroke-width="1.0"/>
<line x1="389.50" y1="271.30" x2="389.50" y2="274.10" stroke="#222" stroke-width="1.0"/>
<text x="390.70" y="281.70" font-size="9.6" text-anchor="end" font-weight="normal" fill="#111" stroke="#111" stroke-width="0.12" textLength="25.34" lengthAdjust="spacingAndGlyphs" transform="rotate(-45 390.70 281.70)">DMSO</text>
<line x1="412.50" y1="271.30" x2="412.50" y2="274.10" stroke="#222" stroke-width="1.0"/>
<text x="413.50" y="281.70" font-size="9.6" text-anchor="end" font-weight="normal" fill="#111" stroke="#111" stroke-width="0.12" textLength="32.87" lengthAdjust="spacingAndGlyphs" transform="rotate(-45 413.50 281.70)">KPT-185</text>
<line x1="434.50" y1="271.30" x2="434.50" y2="274.10" stroke="#222" stroke-width="1.0"/>
<text x="435.80" y="281.70" font-size="9.6" text-anchor="end" font-weight="normal" fill="#111" stroke="#111" stroke-width="0.12" textLength="32.87" lengthAdjust="spacingAndGlyphs" transform="rotate(-45 435.80 281.70)">KPT-251</text>
<line x1="457.50" y1="271.30" x2="457.50" y2="274.10" stroke="#222" stroke-width="1.0"/>
<text x="458.60" y="281.70" font-size="9.6" text-anchor="end" font-weight="normal" fill="#111" stroke="#111" stroke-width="0.12" textLength="25.34" lengthAdjust="spacingAndGlyphs" transform="rotate(-45 458.60 281.70)">DMSO</text>
<line x1="480.50" y1="271.30" x2="480.50" y2="274.10" stroke="#222" stroke-width="1.0"/>
<text x="481.90" y="281.70" font-size="9.6" text-anchor="end" font-weight="normal" fill="#111" stroke="#111" stroke-width="0.12" textLength="32.87" lengthAdjust="spacingAndGlyphs" transform="rotate(-45 481.90 281.70)">KPT-185</text>
<line x1="502.50" y1="271.30" x2="502.50" y2="274.10" stroke="#222" stroke-width="1.0"/>
<text x="504.40" y="281.70" font-size="9.6" text-anchor="end" font-weight="normal" fill="#111" stroke="#111" stroke-width="0.12" textLength="32.87" lengthAdjust="spacingAndGlyphs" transform="rotate(-45 504.40 281.70)">KPT-251</text>
<text x="354.50" y="223.60" font-size="9" text-anchor="middle" font-weight="normal" fill="#111" stroke="#111" stroke-width="0.12" transform="rotate(-90 354.50 223.60)">% Alive</text>
<line x1="451.10" y1="184.50" x2="509.00" y2="184.50" stroke="#222" stroke-width="1.0"/>
<text x="480.50" y="182.50" font-size="9.3" text-anchor="middle" font-weight="normal" fill="#111" stroke="#111" stroke-width="0.12" textLength="30.6" lengthAdjust="spacingAndGlyphs">+ BAFF</text>
<circle cx="389.20" cy="248.50" r="2.1" fill="#111"/>
<circle cx="389.20" cy="248.50" r="2.2" fill="#dc1428" stroke="#b00a28" stroke-width="0.6"/>
<rect x="410.50" y="234.10" width="3.00" height="3.00" fill="#444" stroke="#111" stroke-width="1"/>
<rect x="410.50" y="237.10" width="3.00" height="3.00" fill="#444" stroke="#111" stroke-width="1"/>
<rect x="410.50" y="240.10" width="3.00" height="3.00" fill="#444" stroke="#111" stroke-width="1"/>
<polygon points="412.00,243.00 412.69,244.65 414.47,244.80 413.11,245.96 413.53,247.70 412.00,246.77 410.47,247.70 410.89,245.96 409.53,244.80 411.31,244.65" fill="#111"/>
<circle cx="412.00" cy="257.50" r="2.1" fill="#111"/>
<circle cx="412.00" cy="260.00" r="2.1" fill="#111"/>
<circle cx="412.00" cy="262.50" r="2.1" fill="#111"/>
<circle cx="412.00" cy="265.00" r="2.1" fill="#111"/>
<circle cx="412.00" cy="254.20" r="2.2" fill="#dc1428" stroke="#b00a28" stroke-width="0.6"/>
<polygon points="434.30,249.50 434.99,251.15 436.77,251.30 435.41,252.46 435.83,254.20 434.30,253.27 432.77,254.20 433.19,252.46 431.83,251.30 433.61,251.15" fill="#111"/>
<circle cx="434.30" cy="260.20" r="1.7000000000000002" fill="#555" stroke="#111" stroke-width="0.9"/>
<circle cx="434.30" cy="256.00" r="2.2" fill="#dc1428" stroke="#b00a28" stroke-width="0.6"/>
<polygon points="457.10,204.60 457.79,206.25 459.57,206.40 458.21,207.56 458.63,209.30 457.10,208.37 455.57,209.30 455.99,207.56 454.63,206.40 456.41,206.25" fill="#111"/>
<rect x="455.60" y="221.00" width="3.00" height="3.00" fill="#444" stroke="#111" stroke-width="1"/>
<rect x="455.60" y="223.30" width="3.00" height="3.00" fill="#444" stroke="#111" stroke-width="1"/>
<circle cx="457.10" cy="228.20" r="2.1" fill="#111"/>
<circle cx="457.10" cy="232.50" r="1.7000000000000002" fill="#555" stroke="#111" stroke-width="0.9"/>
<circle cx="457.10" cy="242.00" r="2.1" fill="#111"/>
<circle cx="457.10" cy="244.50" r="2.1" fill="#111"/>
<circle cx="457.10" cy="247.00" r="2.1" fill="#111"/>
<circle cx="457.10" cy="236.30" r="2.2" fill="#dc1428" stroke="#b00a28" stroke-width="0.6"/>
<circle cx="457.10" cy="238.80" r="2.2" fill="#dc1428" stroke="#b00a28" stroke-width="0.6"/>
<polygon points="480.40,200.60 481.09,202.25 482.87,202.40 481.51,203.56 481.93,205.30 480.40,204.37 478.87,205.30 479.29,203.56 477.93,202.40 479.71,202.25" fill="#111"/>
<rect x="478.90" y="215.00" width="3.00" height="3.00" fill="#444" stroke="#111" stroke-width="1"/>
<circle cx="480.40" cy="228.90" r="2.1" fill="#111"/>
<polygon points="480.40,241.90 482.70,246.10 478.10,246.10" fill="#111"/>
<circle cx="480.40" cy="251.40" r="2.1" fill="#111"/>
<circle cx="480.40" cy="254.00" r="2.1" fill="#111"/>
<circle cx="480.40" cy="256.50" r="2.1" fill="#111"/>
<circle cx="480.40" cy="259.00" r="2.1" fill="#111"/>
<circle cx="480.40" cy="262.00" r="2.1" fill="#111"/>
<circle cx="480.40" cy="247.80" r="2.2" fill="#dc1428" stroke="#b00a28" stroke-width="0.6"/>
<polygon points="502.90,244.30 504.80,246.40 502.90,248.50 501.00,246.40" fill="#fff" stroke="#111" stroke-width="0.9"/>
<path d="M501.32 247.93L504.47 251.07M504.47 247.93L501.32 251.07" stroke="#111" stroke-width="1"/>
<circle cx="502.90" cy="259.40" r="2.1" fill="#111"/>
<circle cx="502.90" cy="253.80" r="2.2" fill="#dc1428" stroke="#b00a28" stroke-width="0.6"/>
<circle cx="502.90" cy="256.40" r="2.2" fill="#dc1428" stroke="#b00a28" stroke-width="0.6"/>
<text transform="translate(4.30 348.80) scale(1.08 1)" font-size="14" font-weight="bold" fill="#000" stroke="#000" stroke-width="0.2">G</text>
<line x1="59.50" y1="348.80" x2="59.50" y2="453.00" stroke="#222" stroke-width="1.0"/>
<line x1="56.50" y1="452.50" x2="59.50" y2="452.50" stroke="#222" stroke-width="1.0"/>
<text x="51.80" y="455.70" font-size="9.2" text-anchor="end" font-weight="normal" fill="#111" stroke="#111" stroke-width="0.12">0</text>
<line x1="56.50" y1="418.50" x2="59.50" y2="418.50" stroke="#222" stroke-width="1.0"/>
<text x="51.80" y="421.30" font-size="9.2" text-anchor="end" font-weight="normal" fill="#111" stroke="#111" stroke-width="0.12">50</text>
<line x1="56.50" y1="383.50" x2="59.50" y2="383.50" stroke="#222" stroke-width="1.0"/>
<text x="51.80" y="386.90" font-size="9.2" text-anchor="end" font-weight="normal" fill="#111" stroke="#111" stroke-width="0.12">100</text>
<line x1="56.50" y1="349.50" x2="59.50" y2="349.50" stroke="#222" stroke-width="1.0"/>
<text x="51.80" y="352.50" font-size="9.2" text-anchor="end" font-weight="normal" fill="#111" stroke="#111" stroke-width="0.12">150</text>
<line x1="56.00" y1="452.50" x2="225.20" y2="452.50" stroke="#222" stroke-width="1.0"/>
<line x1="72.50" y1="452.50" x2="72.50" y2="455.30" stroke="#222" stroke-width="1.0"/>
<text x="76.20" y="463.70" font-size="9.8" text-anchor="end" font-weight="normal" fill="#111" stroke="#111" stroke-width="0.12" textLength="26.46" lengthAdjust="spacingAndGlyphs" transform="rotate(-45 76.20 463.70)">DMSO</text>
<line x1="100.50" y1="452.50" x2="100.50" y2="455.30" stroke="#222" stroke-width="1.0"/>
<text x="104.20" y="463.70" font-size="9.8" text-anchor="end" font-weight="normal" fill="#111" stroke="#111" stroke-width="0.12" textLength="34.32" lengthAdjust="spacingAndGlyphs" transform="rotate(-45 104.20 463.70)">KPT-185</text>
<line x1="128.50" y1="452.50" x2="128.50" y2="455.30" stroke="#222" stroke-width="1.0"/>
<text x="132.00" y="463.70" font-size="9.8" text-anchor="end" font-weight="normal" fill="#111" stroke="#111" stroke-width="0.12" textLength="34.32" lengthAdjust="spacingAndGlyphs" transform="rotate(-45 132.00 463.70)">KPT-251</text>
<line x1="156.50" y1="452.50" x2="156.50" y2="455.30" stroke="#222" stroke-width="1.0"/>
<text x="159.80" y="463.70" font-size="9.8" text-anchor="end" font-weight="normal" fill="#111" stroke="#111" stroke-width="0.12" textLength="26.46" lengthAdjust="spacingAndGlyphs" transform="rotate(-45 159.80 463.70)">DMSO</text>
<line x1="184.50" y1="452.50" x2="184.50" y2="455.30" stroke="#222" stroke-width="1.0"/>
<text x="187.80" y="463.70" font-size="9.8" text-anchor="end" font-weight="normal" fill="#111" stroke="#111" stroke-width="0.12" textLength="34.32" lengthAdjust="spacingAndGlyphs" transform="rotate(-45 187.80 463.70)">KPT-185</text>
<line x1="212.50" y1="452.50" x2="212.50" y2="455.30" stroke="#222" stroke-width="1.0"/>
<text x="215.50" y="463.70" font-size="9.8" text-anchor="end" font-weight="normal" fill="#111" stroke="#111" stroke-width="0.12" textLength="34.32" lengthAdjust="spacingAndGlyphs" transform="rotate(-45 215.50 463.70)">KPT-251</text>
<text x="22.30" y="402.60" font-size="9" text-anchor="middle" font-weight="normal" fill="#111" stroke="#111" stroke-width="0.12" transform="rotate(-90 22.30 402.60)">% Alive</text>
<text x="32.50" y="398.00" font-size="8.7" text-anchor="middle" font-weight="normal" fill="#111" stroke="#111" stroke-width="0.12" transform="rotate(-90 32.50 398.00)">(48h continuous exposure)</text>
<path d="M74.5 356.5V352.5H104.5V356.5" fill="none" stroke="#222" stroke-width="1.0"/>
<path d="M87.5 352.5V343.5H172.5V352.5" fill="none" stroke="#222" stroke-width="1.0"/>
<path d="M155.5 356.5V352.5H185.5V356.5" fill="none" stroke="#222" stroke-width="1.0"/>
<text x="126.20" y="341.40" font-size="8.2" text-anchor="middle" font-weight="normal" fill="#111" stroke="#111" stroke-width="0.15" textLength="27.6" lengthAdjust="spacingAndGlyphs">P&lt;0.001</text>
<path d="M100.5 373.5V369.5H185.5V373.5" fill="none" stroke="#222" stroke-width="1.0"/>
<text x="136.00" y="366.20" font-size="8.2" text-anchor="middle" font-weight="normal" fill="#111" stroke="#111" stroke-width="0.15" textLength="28.2" lengthAdjust="spacingAndGlyphs">P=0.013</text>
<path d="M133.5 485.5V489.5H215.5V485.5" fill="none" stroke="#222" stroke-width="1.0"/>
<text x="153.15" y="499.30" font-size="10.3" text-anchor="start" font-weight="normal" fill="#111" stroke="#111" stroke-width="0.12">+</text>
<text x="160.45" y="499.30" font-size="10.3" text-anchor="start" font-weight="normal" fill="#111" stroke="#111" stroke-width="0.12" textLength="30.3" lengthAdjust="spacingAndGlyphs">stroma</text>
<circle cx="73.30" cy="383.90" r="2.35" fill="#dc1428" stroke="#b00a28" stroke-width="0.6"/>
<ellipse cx="101.00" cy="386.00" rx="2.2" ry="2.0" fill="#fff" stroke="#111" stroke-width="1.2"/>
<ellipse cx="101.00" cy="395.00" rx="2.2" ry="2.0" fill="#fff" stroke="#111" stroke-width="1.2"/>
<ellipse cx="101.00" cy="396.70" rx="2.2" ry="2.0" fill="#fff" stroke="#111" stroke-width="1.2"/>
<ellipse cx="101.00" cy="399.40" rx="2.2" ry="2.0" fill="#fff" stroke="#111" stroke-width="1.2"/>
<ellipse cx="101.00" cy="408.30" rx="2.2" ry="2.0" fill="#fff" stroke="#111" stroke-width="1.2"/>
<circle cx="101.00" cy="397.60" r="2.35" fill="#dc1428" stroke="#b00a28" stroke-width="0.6"/>
<ellipse cx="128.90" cy="378.20" rx="2.2" ry="2.0" fill="#fff" stroke="#111" stroke-width="1.2"/>
<ellipse cx="128.90" cy="380.70" rx="2.2" ry="2.0" fill="#fff" stroke="#111" stroke-width="1.2"/>
<ellipse cx="128.90" cy="382.20" rx="2.2" ry="2.0" fill="#fff" stroke="#111" stroke-width="1.2"/>
<ellipse cx="128.90" cy="385.70" rx="2.2" ry="2.0" fill="#888" stroke="#111" stroke-width="1.2"/>
<ellipse cx="128.90" cy="387.50" rx="2.2" ry="2.0" fill="#888" stroke="#111" stroke-width="1.2"/>
<ellipse cx="128.90" cy="398.90" rx="2.2" ry="2.0" fill="#fff" stroke="#111" stroke-width="1.2"/>
<ellipse cx="128.90" cy="404.60" rx="2.2" ry="2.0" fill="#fff" stroke="#111" stroke-width="1.2"/>
<ellipse cx="128.90" cy="413.20" rx="2.2" ry="2.0" fill="#fff" stroke="#111" stroke-width="1.2"/>
<circle cx="128.90" cy="393.40" r="2.35" fill="#dc1428" stroke="#b00a28" stroke-width="0.6"/>
<circle cx="159.30" cy="383.80" r="2.3" fill="#b0141c" stroke="#3a0808" stroke-width="0.8"/>
<ellipse cx="184.40" cy="393.20" rx="2.2" ry="2.0" fill="#fff" stroke="#111" stroke-width="1.2"/>
<ellipse cx="184.40" cy="396.70" rx="2.2" ry="2.0" fill="#fff" stroke="#111" stroke-width="1.2"/>
<ellipse cx="184.40" cy="398.50" rx="2.2" ry="2.0" fill="#fff" stroke="#111" stroke-width="1.2"/>
<ellipse cx="184.40" cy="400.30" rx="2.2" ry="2.0" fill="#fff" stroke="#111" stroke-width="1.2"/>
<ellipse cx="184.40" cy="410.10" rx="2.2" ry="2.0" fill="#fff" stroke="#111" stroke-width="1.2"/>
<ellipse cx="184.40" cy="414.60" rx="2.2" ry="2.0" fill="#fff" stroke="#111" stroke-width="1.2"/>
<ellipse cx="184.40" cy="426.70" rx="2.2" ry="2.0" fill="#fff" stroke="#111" stroke-width="1.2"/>
<circle cx="184.40" cy="403.90" r="2.35" fill="#dc1428" stroke="#b00a28" stroke-width="0.6"/>
<ellipse cx="211.50" cy="378.90" rx="2.2" ry="2.0" fill="#fff" stroke="#111" stroke-width="1.2"/>
<ellipse cx="211.50" cy="385.10" rx="2.2" ry="2.0" fill="#fff" stroke="#111" stroke-width="1.2"/>
<ellipse cx="211.50" cy="386.90" rx="2.2" ry="2.0" fill="#fff" stroke="#111" stroke-width="1.2"/>
<ellipse cx="211.50" cy="389.60" rx="2.2" ry="2.0" fill="#fff" stroke="#111" stroke-width="1.2"/>
<ellipse cx="211.50" cy="391.00" rx="2.2" ry="2.0" fill="#fff" stroke="#111" stroke-width="1.2"/>
<ellipse cx="211.50" cy="403.90" rx="2.2" ry="2.0" fill="#fff" stroke="#111" stroke-width="1.2"/>
<ellipse cx="211.50" cy="405.60" rx="2.2" ry="2.0" fill="#fff" stroke="#111" stroke-width="1.2"/>
<ellipse cx="211.50" cy="410.10" rx="2.2" ry="2.0" fill="#fff" stroke="#111" stroke-width="1.2"/>
<ellipse cx="211.50" cy="417.20" rx="2.2" ry="2.0" fill="#fff" stroke="#111" stroke-width="1.2"/>
<circle cx="211.50" cy="396.70" r="2.35" fill="#dc1428" stroke="#b00a28" stroke-width="0.6"/>
<text transform="translate(249.30 349.60) scale(1.08 1)" font-size="14" font-weight="bold" fill="#000" stroke="#000" stroke-width="0.2">H</text>
<line x1="285.50" y1="353.70" x2="285.50" y2="456.00" stroke="#222" stroke-width="1.0"/>
<line x1="282.20" y1="435.50" x2="285.50" y2="435.50" stroke="#222" stroke-width="1.0"/>
<text x="279.30" y="438.12" font-size="8.8" text-anchor="end" font-weight="normal" fill="#111" stroke="#111" stroke-width="0.12">20</text>
<line x1="282.20" y1="416.50" x2="285.50" y2="416.50" stroke="#222" stroke-width="1.0"/>
<text x="279.30" y="419.44" font-size="8.8" text-anchor="end" font-weight="normal" fill="#111" stroke="#111" stroke-width="0.12">40</text>
<line x1="282.20" y1="397.50" x2="285.50" y2="397.50" stroke="#222" stroke-width="1.0"/>
<text x="279.30" y="400.76" font-size="8.8" text-anchor="end" font-weight="normal" fill="#111" stroke="#111" stroke-width="0.12">60</text>
<line x1="282.20" y1="379.50" x2="285.50" y2="379.50" stroke="#222" stroke-width="1.0"/>
<text x="279.30" y="382.08" font-size="8.8" text-anchor="end" font-weight="normal" fill="#111" stroke="#111" stroke-width="0.12">80</text>
<line x1="282.20" y1="360.50" x2="285.50" y2="360.50" stroke="#222" stroke-width="1.0"/>
<text x="279.30" y="363.40" font-size="8.8" text-anchor="end" font-weight="normal" fill="#111" stroke="#111" stroke-width="0.12">100</text>
<line x1="282.30" y1="453.50" x2="461.90" y2="453.50" stroke="#222" stroke-width="1.0"/>
<line x1="300.50" y1="453.80" x2="300.50" y2="456.30" stroke="#222" stroke-width="1.0"/>
<text x="303.80" y="465.00" font-size="10.0" text-anchor="end" font-weight="normal" fill="#111" stroke="#111" stroke-width="0.12" textLength="27.3" lengthAdjust="spacingAndGlyphs" transform="rotate(-45 303.80 465.00)">DMSO</text>
<line x1="329.50" y1="453.80" x2="329.50" y2="456.30" stroke="#222" stroke-width="1.0"/>
<text x="333.20" y="465.00" font-size="10.0" text-anchor="end" font-weight="normal" fill="#111" stroke="#111" stroke-width="0.12" textLength="35.41" lengthAdjust="spacingAndGlyphs" transform="rotate(-45 333.20 465.00)">KPT-185</text>
<line x1="358.50" y1="453.80" x2="358.50" y2="456.30" stroke="#222" stroke-width="1.0"/>
<text x="362.10" y="465.00" font-size="10.0" text-anchor="end" font-weight="normal" fill="#111" stroke="#111" stroke-width="0.12" textLength="35.41" lengthAdjust="spacingAndGlyphs" transform="rotate(-45 362.10 465.00)">KPT-251</text>
<line x1="388.50" y1="453.80" x2="388.50" y2="456.30" stroke="#222" stroke-width="1.0"/>
<text x="391.70" y="465.00" font-size="10.0" text-anchor="end" font-weight="normal" fill="#111" stroke="#111" stroke-width="0.12" textLength="27.3" lengthAdjust="spacingAndGlyphs" transform="rotate(-45 391.70 465.00)">DMSO</text>
<line x1="417.50" y1="453.80" x2="417.50" y2="456.30" stroke="#222" stroke-width="1.0"/>
<text x="421.30" y="465.00" font-size="10.0" text-anchor="end" font-weight="normal" fill="#111" stroke="#111" stroke-width="0.12" textLength="35.41" lengthAdjust="spacingAndGlyphs" transform="rotate(-45 421.30 465.00)">KPT-185</text>
<line x1="447.50" y1="453.80" x2="447.50" y2="456.30" stroke="#222" stroke-width="1.0"/>
<text x="450.80" y="465.00" font-size="10.0" text-anchor="end" font-weight="normal" fill="#111" stroke="#111" stroke-width="0.12" textLength="35.41" lengthAdjust="spacingAndGlyphs" transform="rotate(-45 450.80 465.00)">KPT-251</text>
<text x="250.30" y="396.40" font-size="8.4" text-anchor="middle" font-weight="normal" fill="#111" stroke="#111" stroke-width="0.12" transform="rotate(-90 250.30 396.40)">% Alive</text>
<text x="260.10" y="394.30" font-size="9.2" text-anchor="middle" font-weight="normal" fill="#111" stroke="#111" stroke-width="0.12" transform="rotate(-90 260.10 394.30)">(Wash out)</text>
<path d="M301.5 347.5V343.5H332.5V347.5" fill="none" stroke="#222" stroke-width="1.0"/>
<path d="M314.5 343.5V339.5H400.5V343.5" fill="none" stroke="#222" stroke-width="1.0"/>
<path d="M387.5 347.5V343.5H417.5V347.5" fill="none" stroke="#222" stroke-width="1.0"/>
<text x="353.90" y="336.90" font-size="8.0" text-anchor="middle" font-weight="normal" fill="#111" stroke="#111" stroke-width="0.15" textLength="26.6" lengthAdjust="spacingAndGlyphs">P&lt;0.001</text>
<path d="M327.5 357.5V352.5H413.5V357.5" fill="none" stroke="#222" stroke-width="1.0"/>
<text x="359.60" y="349.20" font-size="8.0" text-anchor="middle" font-weight="normal" fill="#111" stroke="#111" stroke-width="0.15" textLength="26.0" lengthAdjust="spacingAndGlyphs">P=0.001</text>
<path d="M371.5 489.5V493.5H452.5V489.5" fill="none" stroke="#222" stroke-width="1.0"/>
<text x="392.35" y="502.60" font-size="10.3" text-anchor="start" font-weight="normal" fill="#111" stroke="#111" stroke-width="0.12">+</text>
<text x="399.25" y="502.60" font-size="10.3" text-anchor="start" font-weight="normal" fill="#111" stroke="#111" stroke-width="0.12" textLength="30.4" lengthAdjust="spacingAndGlyphs">stroma</text>
<rect x="297.40" y="358.30" width="4.8" height="4.4" fill="#b0141c" stroke="#3a0808" stroke-width="0.6"/>
<ellipse cx="329.70" cy="367.40" rx="2.3" ry="2.0" fill="#fff" stroke="#111" stroke-width="1.2"/>
<ellipse cx="329.70" cy="368.80" rx="2.3" ry="2.0" fill="#fff" stroke="#111" stroke-width="1.2"/>
<ellipse cx="329.70" cy="376.50" rx="2.3" ry="2.0" fill="#fff" stroke="#111" stroke-width="1.2"/>
<ellipse cx="329.70" cy="380.50" rx="2.3" ry="2.0" fill="#888" stroke="#111" stroke-width="1.2"/>
<ellipse cx="329.70" cy="383.00" rx="2.3" ry="2.0" fill="#888" stroke="#111" stroke-width="1.2"/>
<ellipse cx="329.70" cy="385.00" rx="2.3" ry="2.0" fill="#888" stroke="#111" stroke-width="1.2"/>
<ellipse cx="329.70" cy="386.50" rx="2.3" ry="2.0" fill="#fff" stroke="#111" stroke-width="1.2"/>
<ellipse cx="329.70" cy="389.20" rx="2.3" ry="2.0" fill="#fff" stroke="#111" stroke-width="1.2"/>
<rect x="327.30" y="376.40" width="4.8" height="4.4" fill="#b0141c" stroke="#3a0808" stroke-width="0.6"/>
<ellipse cx="358.70" cy="353.90" rx="2.3" ry="2.0" fill="#fff" stroke="#111" stroke-width="1.2"/>
<ellipse cx="358.70" cy="356.10" rx="2.3" ry="2.0" fill="#fff" stroke="#111" stroke-width="1.2"/>
<ellipse cx="358.70" cy="364.80" rx="2.3" ry="2.0" fill="#fff" stroke="#111" stroke-width="1.2"/>
<ellipse cx="358.70" cy="370.70" rx="2.3" ry="2.0" fill="#fff" stroke="#111" stroke-width="1.2"/>
<ellipse cx="358.70" cy="377.20" rx="2.3" ry="2.0" fill="#fff" stroke="#111" stroke-width="1.2"/>
<ellipse cx="358.70" cy="382.20" rx="2.3" ry="2.0" fill="#fff" stroke="#111" stroke-width="1.2"/>
<ellipse cx="358.70" cy="397.90" rx="2.3" ry="2.0" fill="#fff" stroke="#111" stroke-width="1.2"/>
<rect x="356.30" y="369.60" width="4.8" height="4.4" fill="#b0141c" stroke="#3a0808" stroke-width="0.6"/>
<rect x="386.10" y="358.50" width="4.8" height="4.4" fill="#b0141c" stroke="#3a0808" stroke-width="0.6"/>
<ellipse cx="418.00" cy="362.60" rx="2.3" ry="2.0" fill="#fff" stroke="#111" stroke-width="1.2"/>
<ellipse cx="418.00" cy="368.50" rx="2.3" ry="2.0" fill="#fff" stroke="#111" stroke-width="1.2"/>
<ellipse cx="418.00" cy="374.40" rx="2.3" ry="2.0" fill="#fff" stroke="#111" stroke-width="1.2"/>
<ellipse cx="418.00" cy="378.00" rx="2.3" ry="2.0" fill="#fff" stroke="#111" stroke-width="1.2"/>
<ellipse cx="418.00" cy="380.40" rx="2.3" ry="2.0" fill="#fff" stroke="#111" stroke-width="1.2"/>
<ellipse cx="418.00" cy="386.30" rx="2.3" ry="2.0" fill="#fff" stroke="#111" stroke-width="1.2"/>
<ellipse cx="418.00" cy="391.10" rx="2.3" ry="2.0" fill="#fff" stroke="#111" stroke-width="1.2"/>
<ellipse cx="418.00" cy="397.50" rx="2.3" ry="2.0" fill="#fff" stroke="#111" stroke-width="1.2"/>
<ellipse cx="418.00" cy="400.60" rx="2.3" ry="2.0" fill="#888" stroke="#111" stroke-width="1.2"/>
<rect x="415.60" y="381.70" width="4.8" height="4.4" fill="#b0141c" stroke="#3a0808" stroke-width="0.6"/>
<ellipse cx="447.20" cy="355.40" rx="2.3" ry="2.0" fill="#fff" stroke="#111" stroke-width="1.2"/>
<ellipse cx="447.20" cy="359.50" rx="2.3" ry="2.0" fill="#fff" stroke="#111" stroke-width="1.2"/>
<ellipse cx="447.20" cy="364.50" rx="2.3" ry="2.0" fill="#fff" stroke="#111" stroke-width="1.2"/>
<ellipse cx="447.20" cy="378.50" rx="2.3" ry="2.0" fill="#fff" stroke="#111" stroke-width="1.2"/>
<ellipse cx="447.20" cy="383.50" rx="2.3" ry="2.0" fill="#fff" stroke="#111" stroke-width="1.2"/>
<ellipse cx="447.20" cy="387.50" rx="2.3" ry="2.0" fill="#fff" stroke="#111" stroke-width="1.2"/>
<rect x="444.80" y="369.90" width="4.8" height="4.4" fill="#b0141c" stroke="#3a0808" stroke-width="0.6"/>
</svg>
</body></html>
